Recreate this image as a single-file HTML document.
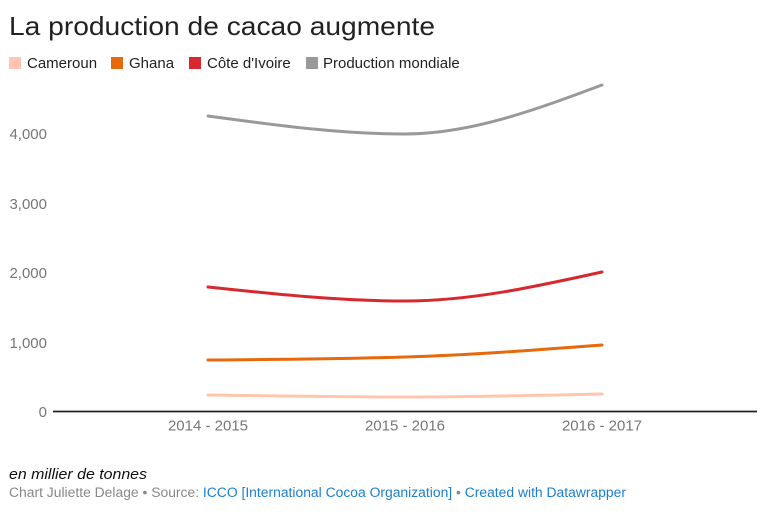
<!DOCTYPE html>
<html><head><meta charset="utf-8"><style>
html,body{margin:0;padding:0;background:#fff;}
svg{display:block;font-family:"Liberation Sans",Arial,sans-serif;}
</style></head><body>
<svg width="768" height="518" viewBox="0 0 768 518" xmlns="http://www.w3.org/2000/svg">
<rect width="768" height="518" fill="#fff"/>
<text x="9" y="35" font-size="26" fill="#222" textLength="426" lengthAdjust="spacingAndGlyphs">La production de cacao augmente</text>
<g font-size="15" fill="#222">
<rect x="9" y="57" width="12" height="12" fill="#ffc5ae"/>
<text x="27" y="68">Cameroun</text>
<rect x="111" y="57" width="12" height="12" fill="#e6690d"/>
<text x="129" y="68">Ghana</text>
<rect x="189" y="57" width="12" height="12" fill="#d6282d"/>
<text x="207" y="68">Côte d'Ivoire</text>
<rect x="306" y="57" width="12" height="12" fill="#999"/>
<text x="323" y="68">Production mondiale</text>
</g>
<g font-size="15" fill="#777" text-anchor="end">
<text x="47" y="139">4,000</text>
<text x="47" y="209">3,000</text>
<text x="47" y="278">2,000</text>
<text x="47" y="348">1,000</text>
<text x="47" y="417">0</text>
</g>
<g font-size="15" fill="#777" text-anchor="middle">
<text x="208" y="430.5">2014 - 2015</text>
<text x="405" y="430.5">2015 - 2016</text>
<text x="602" y="430.5">2016 - 2017</text>
</g>
<line x1="53" y1="411.5" x2="757" y2="411.5" stroke="#222" stroke-width="1.8"/>
<g fill="none" stroke-width="3" stroke-linecap="round">
<path d="M208,116 C273.67,125 339.33,134 405,134 C470.67,134 536.33,109.5 602,85" stroke="#999"/>
<path d="M208,287 C273.67,294 339.33,301 405,301 C470.67,301 536.33,286.5 602,272" stroke="#d6282d"/>
<path d="M208,360 C273.67,359.5 339.33,359 405,357 C470.67,355 536.33,350 602,345" stroke="#e6690d"/>
<path d="M208,395 C273.67,396 339.33,397 405,397 C470.67,397 536.33,395.5 602,394" stroke="#ffc5ae"/>
</g>
<text x="9" y="479" font-size="15" font-style="italic" fill="#111" textLength="138" lengthAdjust="spacingAndGlyphs">en millier de tonnes</text>
<text x="9" y="497" font-size="13.5" fill="#888" textLength="617" lengthAdjust="spacingAndGlyphs">Chart Juliette Delage • Source: <tspan fill="#1a7fcf">ICCO [International Cocoa Organization]</tspan> • <tspan fill="#1a7fcf">Created with Datawrapper</tspan></text>
</svg>
</body></html>
